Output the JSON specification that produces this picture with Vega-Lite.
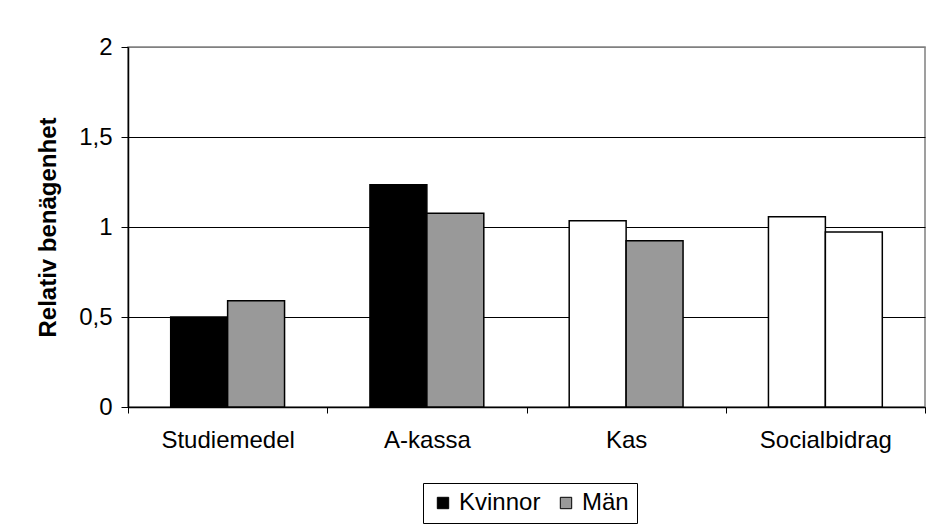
{
  "$schema": "https://vega.github.io/schema/vega-lite/v6.json",
  "width": 797,
  "height": 360,
  "autosize": {"type": "none"},
  "padding": {"left": 128, "top": 47, "right": 7, "bottom": 121},
  "background": "white",
  "config": {
    "font": "Liberation Sans",
    "view": {"stroke": "#808080", "strokeWidth": 1.5},
    "locale": {"number": {"decimal": ",", "thousands": " ", "grouping": [3], "currency": ["", " kr"]}}
  },
  "data": {
    "values": [
      {"kat": "Studiemedel", "kon": "Kvinnor", "varde": 0.50},
      {"kat": "Studiemedel", "kon": "Män", "varde": 0.59},
      {"kat": "A-kassa", "kon": "Kvinnor", "varde": 1.235},
      {"kat": "A-kassa", "kon": "Män", "varde": 1.076},
      {"kat": "Kas", "kon": "Kvinnor", "varde": 1.035},
      {"kat": "Kas", "kon": "Män", "varde": 0.924},
      {"kat": "Socialbidrag", "kon": "Kvinnor", "varde": 1.057},
      {"kat": "Socialbidrag", "kon": "Män", "varde": 0.972}
    ]
  },
  "mark": {"type": "bar", "stroke": "black", "strokeWidth": 1.5},
  "encoding": {
    "x": {
      "field": "kat",
      "type": "nominal",
      "sort": ["Studiemedel", "A-kassa", "Kas", "Socialbidrag"],
      "scale": {"paddingInner": 0, "paddingOuter": 0},
      "axis": {
        "title": null,
        "tickBand": "extent",
        "labelAngle": 0,
        "labelFontSize": 24,
        "labelColor": "black",
        "labelPadding": 15,
        "tickSize": 6,
        "tickColor": "black",
        "domainColor": "black",
        "domainWidth": 1.5,
        "grid": false
      }
    },
    "xOffset": {
      "field": "kon",
      "type": "nominal",
      "sort": ["Kvinnor", "Män"],
      "scale": {"paddingInner": 0, "paddingOuter": 0.75}
    },
    "y": {
      "field": "varde",
      "type": "quantitative",
      "scale": {"domain": [0, 2], "nice": false},
      "axis": {
        "title": "Relativ benägenhet",
        "titleFontSize": 24,
        "titleFontWeight": "bold",
        "titleColor": "black",
        "titlePadding": 18,
        "values": [0, 0.5, 1, 1.5, 2],
        "format": ".1~f",
        "labelFontSize": 24,
        "labelColor": "black",
        "labelPadding": 9,
        "tickSize": 7,
        "tickColor": "black",
        "domainColor": "black",
        "domainWidth": 1.5,
        "grid": true,
        "gridColor": {"condition": {"test": "datum.value === 2", "value": "#808080"}, "value": "black"},
        "gridWidth": 1.2
      }
    },
    "fill": {
      "condition": {
        "test": "datum.kat === 'Socialbidrag' || (datum.kat === 'Kas' && datum.kon === 'Kvinnor')",
        "value": "white"
      },
      "field": "kon",
      "type": "nominal",
      "scale": {"domain": ["Kvinnor", "Män"], "range": ["black", "#999999"]},
      "legend": {
        "title": null,
        "orient": "none",
        "direction": "horizontal",
        "legendX": 295,
        "legendY": 436,
        "symbolType": "square",
        "symbolSize": 130,
        "symbolStrokeColor": "black",
        "symbolStrokeWidth": 1,
        "labelFontSize": 24,
        "labelColor": "black",
        "labelOffset": 4,
        "columnPadding": 13,
        "strokeColor": "black",
        "padding": 8
      }
    }
  }
}
